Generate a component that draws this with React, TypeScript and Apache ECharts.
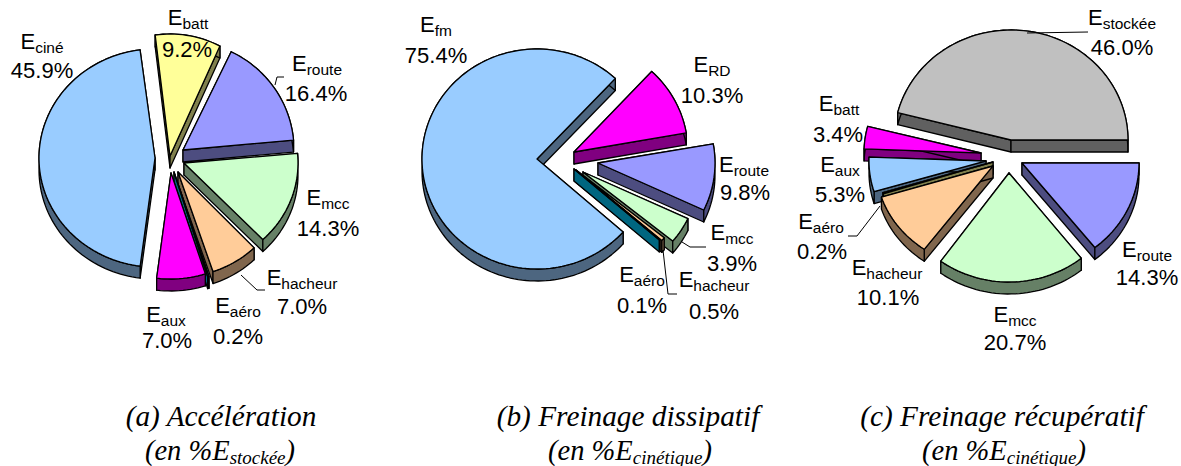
import React, { useEffect, useRef } from "react";
import * as echarts from "echarts";

// ---- data -----
const namesA = ["batt", "route", "mcc", "hacheur", "aéro", "aux", "ciné"];
const valuesA = [9.2, 16.4, 14.3, 7.0, 0.2, 7.0, 45.9];
const namesB = ["fm", "RD", "route", "mcc", "hacheur", "aéro"];
const valuesB = [75.4, 10.3, 9.8, 3.9, 0.5, 0.1];
const namesC = ["stockée", "route", "mcc", "hacheur", "aéro", "aux", "batt"];
const valuesC = [46.0, 14.3, 20.7, 10.1, 0.2, 5.3, 3.4];

// ---- colours -----
const BLUE = "#99CCFF", YEL = "#FFFF99", LIL = "#9999FF", GRN = "#CCFFCC", PEA = "#FFCC99", MAG = "#FF00FF", CYA = "#00CCFF", GRY = "#C0C0C0";
const colorsA = [YEL, LIL, GRN, PEA, CYA, MAG, BLUE];
const colorsB = [BLUE, MAG, LIL, GRN, PEA, CYA];
const colorsC = [GRY, LIL, GRN, PEA, YEL, BLUE, MAG];

// ---- layout: per-slice apex and radii (exploded, slightly perspective-distorted) -----
const FONT = "Liberation Sans";
const SERIF = "Liberation Serif";
const DEPTH = 12;
const panels = [
  {
    names: namesA, values: valuesA, colors: colorsA, startDeg: 262.6, order: [0, 1, 2, 3, 4, 5, 6],
    apex: [[170, 156], [183, 150], [184, 163], [178, 172], [174, 172], [171, 173], [155, 158]],
    radii: [[115, 122], [111, 109], [114, 106], [110, 105], [110, 110], [112, 106], [116, 109]],
    labels: [[188, 25, 187, 57], [317, 71, 316, 101], [328, 205, 328, 236], [302, 285, 302, 314], [238, 313, 238, 344], [166, 322, 167, 348], [42, 49, 42, 78]],
    leaders: [[[284, 77], [277, 77], [275, 85]], [[265, 290], [257, 290], [241, 275]]],
  },
  {
    names: namesB, values: valuesB, colors: colorsB, startDeg: 41.5, order: [0, 1, 2, 3, 4, 5],
    apex: [[537, 159], [574, 152], [598, 163], [583, 172], [576, 170], [574, 169]],
    radii: [[115, 110], [114, 110], [117, 110], [116, 109], [114, 107], [114, 107]],
    labels: [[436, 32, 436, 63], [712, 72, 712, 103], [744, 172, 745, 200], [732, 240, 732, 271], [714, 287, 714, 319], [642, 282, 642, 313]],
    leaders: [[[706, 247], [690, 247], [682, 242]], [[677, 294], [668, 294], [663, 250]]],
  },
  {
    names: namesC, values: valuesC, colors: colorsC, startDeg: 194.4, order: [0, 6, 5, 4, 1, 3, 2],
    apex: [[1011, 140], [1022, 163], [1009, 173], [993, 166], [993, 162], [986, 161], [981, 153]],
    radii: [[117, 110], [117, 108], [116, 109], [117, 103], [115, 105], [117, 105], [117, 107]],
    labels: [[1122, 25, 1122, 55], [1147, 257, 1147, 285], [1015, 322, 1015, 350], [887, 275, 888, 305], [821, 229, 822, 259], [840, 172, 840, 202], [839, 111, 838, 142]],
    leaders: [[[1088, 32], [1027, 33]], [[848, 236], [857, 236], [880, 206]]],
  },
];
const captions = [
  { x: 221, x2: 220, line1: "(a) Accélération", sub: "stockée" },
  { x: 628, x2: 630, line1: "(b) Freinage dissipatif", sub: "cinétique" },
  { x: 1002, x2: 1004, line1: "(c) Freinage récupératif", sub: "cinétique" },
];

function darken(hex: string) {
  const n = parseInt(hex.slice(1), 16);
  const c = [(n >> 16) & 255, (n >> 8) & 255, n & 255].map((v) => Math.round(v / 2));
  return `rgb(${c[0]},${c[1]},${c[2]})`;
}

function sliceRange(values: number[], startDeg: number, i: number) {
  const total = values.reduce((a, b) => a + b, 0);
  let s = startDeg;
  for (let k = 0; k < i; k++) s += (values[k] / total) * 360;
  return [s, s + (values[i] / total) * 360];
}

function makeSeries(p: (typeof panels)[number]) {
  return {
    type: "custom",
    coordinateSystem: "none",
    silent: true,
    data: p.order.map((i) => [i, p.values[i]]),
    renderItem: (_: any, api: any) => {
      const i = api.value(0);
      const [a0, a1] = sliceRange(p.values, p.startDeg, i);
      const [cx, cy] = p.apex[i];
      const [rx, ry] = p.radii[i];
      const arc: number[][] = [];
      const steps = Math.max(2, Math.ceil((a1 - a0) / 2));
      for (let k = 0; k <= steps; k++) {
        const t = ((a0 + ((a1 - a0) * k) / steps) * Math.PI) / 180;
        arc.push([cx + rx * Math.cos(t), cy + ry * Math.sin(t)]);
      }
      const down = (q: number[]) => [q[0], q[1] + DEPTH];
      const side = darken(p.colors[i]);
      const sideStyle = { fill: side, stroke: "#000", lineWidth: 1.3, lineJoin: "round" };
      const first = arc[0];
      const last = arc[arc.length - 1];
      const apex = [cx, cy];
      return {
        type: "group",
        children: [
          { type: "polygon", shape: { points: [apex, first, down(first), down(apex)] }, style: sideStyle },
          { type: "polygon", shape: { points: [apex, last, down(last), down(apex)] }, style: sideStyle },
          { type: "polygon", shape: { points: [...arc, ...arc.slice().reverse().map(down)] }, style: sideStyle },
          { type: "polygon", shape: { points: [apex, ...arc] }, style: { fill: p.colors[i], stroke: "#000", lineWidth: 1.3, lineJoin: "round" } },
        ],
      };
    },
  };
}

function makeGraphics() {
  const out: any[] = [];
  panels.forEach((p) => {
    p.leaders.forEach((pts) => {
      out.push({ type: "polyline", z: 5, shape: { points: pts }, style: { stroke: "#000", lineWidth: 1, fill: null } });
    });
    p.names.forEach((name, i) => {
      const [nx, ny, vx, vy] = p.labels[i];
      out.push({
        type: "text", z: 6, x: nx, y: ny - 7.5,
        style: {
          text: `{e|E}{s|${name}}`, align: "center", verticalAlign: "middle",
          rich: {
            e: { fontFamily: FONT, fontSize: 22, lineHeight: 22, fill: "#000" },
            s: { fontFamily: FONT, fontSize: 15.5, height: 9.4, lineHeight: 9.4, verticalAlign: "bottom", fill: "#000" },
          },
        },
      });
      out.push({
        type: "text", z: 6, x: vx, y: vy - 7.5,
        style: { text: `${p.values[i].toFixed(1)}%`, align: "center", verticalAlign: "middle", fontFamily: FONT, fontSize: 22, fill: "#000" },
      });
    });
  });
  captions.forEach((c) => {
    out.push({
      type: "text", z: 6, x: c.x, y: 416,
      style: { text: c.line1, align: "center", verticalAlign: "middle", fontFamily: SERIF, fontStyle: "italic", fontSize: 29.3, fill: "#000" },
    });
    out.push({
      type: "text", z: 6, x: c.x2, y: 450,
      style: {
        text: `{m|(en %E}{s|${c.sub}}{m|)}`, align: "center", verticalAlign: "middle",
        rich: {
          m: { fontFamily: SERIF, fontStyle: "italic", fontSize: 28.5, lineHeight: 28, fill: "#000" },
          s: { fontFamily: SERIF, fontStyle: "italic", fontSize: 19, height: 14, lineHeight: 14, verticalAlign: "bottom", fill: "#000" },
        },
      },
    });
  });
  return out;
}

export default function App() {
  const ref = useRef<HTMLDivElement>(null);
  useEffect(() => {
    const chart = echarts.init(ref.current!, undefined, { renderer: "svg" });
    chart.setOption({
      animation: false,
      backgroundColor: "#fff",
      series: panels.map(makeSeries),
      graphic: makeGraphics(),
    });
    return () => chart.dispose();
  }, []);
  return <div ref={ref} style={{ position: "absolute", left: 0, top: 0, width: 1181, height: 466 }} />;
}
